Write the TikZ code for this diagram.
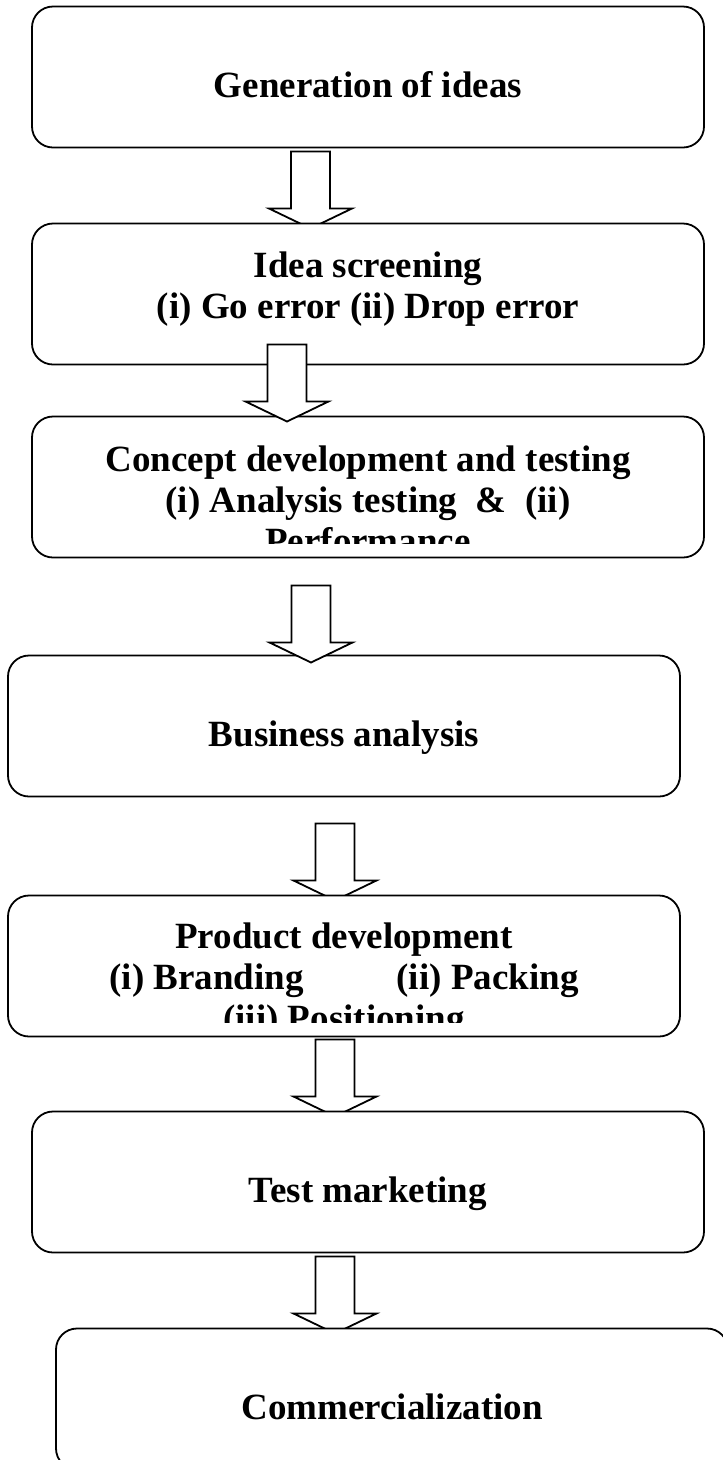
\documentclass[tikz,border=0pt]{standalone}
\usepackage{fontspec}
\setmainfont{Liberation Serif}
\usetikzlibrary{positioning,calc}

\begin{document}
\begin{tikzpicture}[
  x=1pt,y=1pt,
  font=\fontsize{37}{41}\selectfont\bfseries,
  box/.style={draw,line width=1.8pt,rounded corners=21pt,fill=white,
              minimum width=672pt,minimum height=141pt,inner sep=0pt,outer sep=0pt},
  txt/.style={anchor=base,inner sep=0pt},
  hollow/.style={draw,line width=1.8pt,fill=white,line join=miter},
  down arrow/.pic={\draw[hollow] (-19.5,0) -- (-19.5,-57) -- (-41.5,-57) -- (0,-77)
                   -- (41.5,-57) -- (19.5,-57) -- (19.5,0) -- cycle;}
]
\useasboundingbox (0,0) rectangle (723,-1460);

% ---- stage 1 ----
\node[box] (b1) at (368,-77) {};
\node[txt] (t1) at ($(b1.north)+(0,-91)$) {Generation of ideas};
\coordinate (a1) at ($(b1.south)+(-57.5,-4)$);
\pic at (a1) {down arrow};

% ---- stages 2 and 3 ----
\node[box,below=76pt of b1] (b2) {};
\node[txt] (t2a) at ($(b2.north)+(0,-54)$) {Idea screening};
\node[txt] (t2b) at ($(b2.north)+(0,-95)$) {(i) Go error (ii) Drop error};

\node[box,below=52pt of b2] (b3) {};
\node[txt] (t3a) at ($(b3.north)+(0,-55)$) {Concept development and testing};
\node[txt] (t3b) at ($(b3.north)+(0,-96)$) {(i) Analysis testing\ \ \&\ \ (ii)};
\begin{scope}
  \clip ($(b3.south west)+(0,14)$) rectangle (b3.north east);
  \node[txt] (t3c) at ($(b3.north)+(0,-137)$) {Performance};
\end{scope}
\coordinate (a2) at ($(b2.south)+(-81,20)$);
\pic at (a2) {down arrow};

% ---- stage 4 ----
\node[box,below=98pt of b3,xshift=-24pt] (b4) {};
\node[txt] (t4) at ($(b4.north)+(0,-91)$) {Business analysis};
\coordinate (a3) at ($(b3.south)+(-57,-28)$);
\pic at (a3) {down arrow};
\coordinate (a4) at ($(b4.south)+(-9,-27)$);
\pic at (a4) {down arrow};

% ---- stage 5 ----
\node[box,below=99pt of b4] (b5) {};
\node[txt] (t5a) at ($(b5.north)+(0,-53)$) {Product development};
\node[txt] (t5b) at ($(b5.north)+(0,-94)$) {(i) Branding\hspace{93pt}(ii) Packing};
\begin{scope}
  \clip ($(b5.south west)+(0,14)$) rectangle (b5.north east);
  \node[txt] (t5c) at ($(b5.north)+(0,-135)$) {(iii) Positioning};
\end{scope}
\coordinate (a5) at ($(b5.south)+(-9,-3)$);
\pic at (a5) {down arrow};

% ---- stages 6 and 7 ----
\node[box,below=75pt of b5,xshift=24pt] (b6) {};
\node[txt] (t6) at ($(b6.north)+(0,-91)$) {Test marketing};
\coordinate (a6) at ($(b6.south)+(-33,-4)$);
\pic at (a6) {down arrow};

\node[box,below=76pt of b6,xshift=24pt] (b7) {};
\node[txt] (t7) at ($(b7.north)+(0,-91)$) {Commercialization};

\end{tikzpicture}
\end{document}
